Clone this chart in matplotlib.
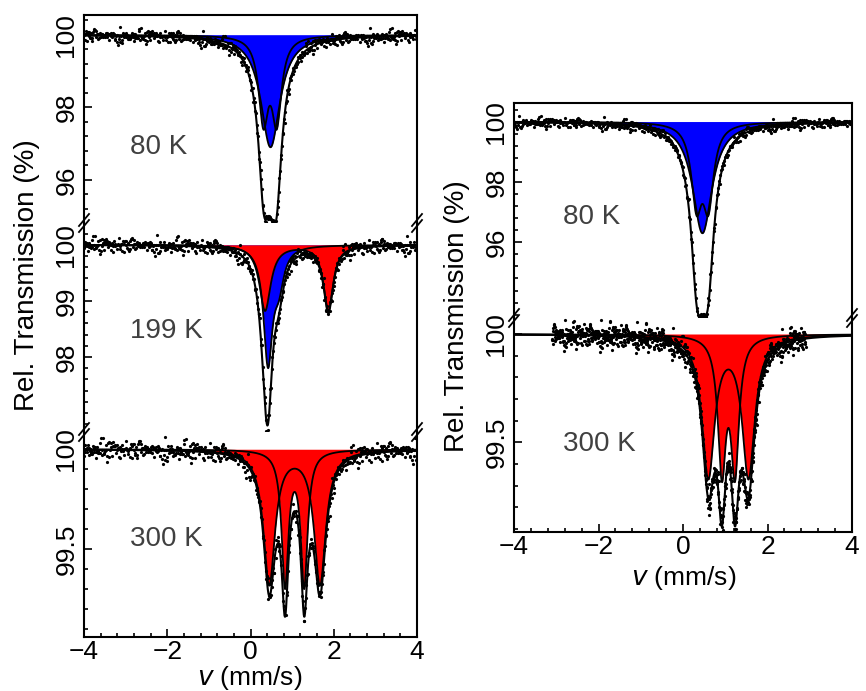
import numpy as np
import matplotlib.pyplot as plt
from matplotlib.lines import Line2D
from matplotlib.ticker import MultipleLocator, FixedLocator, FormatStrFormatter

plt.rcParams['font.family'] = ['Liberation Sans', 'DejaVu Sans']

# sub-spectra: (line position mm/s, half width mm/s, depth %)
l80_blue_doublet = [(0.31, 0.14, 2.25), (0.63, 0.14, 2.25)]
l80_blue_singlet = [(0.48, 0.28, 3.1)]
l199_blue = [(0.42, 0.13, 2.05), (0.68, 0.15, 0.6)]
l199_red = [(0.35, 0.165, 1.17), (1.87, 0.14, 1.17)]
l300_red_outer = [(0.45, 0.17, 0.67), (1.67, 0.17, 0.67)]
l300_red_inner = [(0.83, 0.10, 0.67), (1.29, 0.10, 0.67)]
r80_blue_doublet = [(0.32, 0.15, 2.55), (0.60, 0.15, 2.55)]
r80_blue_singlet = [(0.46, 0.28, 3.7)]
r300_red_outer = [(0.60, 0.18, 0.65), (1.55, 0.18, 0.65)]
r300_red_inner = [(0.92, 0.115, 0.61), (1.23, 0.115, 0.61)]

# y tick values of each panel
l80_ticks = [96, 98, 100]
l199_ticks = [98, 99, 100]
l300_ticks = [99.5, 100]
r80_ticks = [96, 98, 100]
r300_ticks = [99.5, 100]

# scatter of the measured points around the fit, in units of the noise level
noise = [0.3, -1.1, 0.8, -0.2, 1.6, -0.7, 0.1, -1.9, 0.5, 1.2, -0.4, -0.9, 2.1, 0.0, -1.4, 0.7,
         -0.3, 1.0, -2.3, 0.4, 0.9, -0.6, 1.4, -1.2, 0.2, -0.1, 1.8, -0.8, 0.6, -1.6, 0.1, 1.1,
         -0.5, 2.6, -1.0, 0.3, -0.2, 0.8, -1.3, 1.5, -0.4, 0.0, -2.0, 0.9, 0.5, -0.7, 1.3, -1.5,
         0.2, 0.7, -0.9, 1.9, -0.3, -1.1, 0.6, -0.1, 1.0, -1.8, 0.4, 3.0, -0.6, 0.1, -1.2, 0.8,
         -0.4, 1.2, -0.2, -2.7, 0.5, 0.9, -1.0, 0.3, 1.7, -0.5, -0.8, 0.0, 1.1, -1.5, 0.6, -0.3,
         2.2, -0.9, 0.2, -1.3, 0.7, 0.4, -0.6, 1.4, -2.1, 0.1, 0.8, -0.1, -1.7, 1.0, 0.3, -0.4,
         1.6, -1.1, 0.5, -0.2, -3.1, 0.9, 0.2, -0.7, 1.3, -0.5, 0.6, -1.4, 0.0, 2.0, -0.8, 0.4,
         -1.2, 1.5, -0.3, 0.7, -1.9, 0.1, 1.1, -0.6, 2.8, -1.0, 0.3, -0.2, 0.9, -1.6, 0.5, -0.4]

v_fit = np.linspace(-4, 4, 1601)


def absorption(v, comp):
    return sum(d / (1 + ((v - p) / g) ** 2) for p, g, d in comp)


def draw_panel(ax, comps, colors, ylim, yticks, minor, sigma, n_pts, v_data, k):
    total = 100 - sum(absorption(v_fit, c) for c in comps)
    for c, col in zip(comps, colors):
        curve = 100 - absorption(v_fit, c)
        ax.fill_between(v_fit, curve, 100, color=col, lw=0)
        ax.plot(v_fit, curve, color='k', lw=1.3)
    ax.plot(v_fit, total, color='k', lw=1.5)
    vd = np.linspace(v_data[0], v_data[1], n_pts)
    res = np.array([noise[(i * 29 + k) % len(noise)] for i in range(n_pts)])
    yd = 100 - sum(absorption(vd, c) for c in comps) + sigma * res
    ax.plot(vd, yd, 'o', ms=2.3, color='k', mew=0)
    ax.set_xlim(-4, 4)
    ax.set_ylim(*ylim)
    ax.yaxis.set_major_locator(FixedLocator(yticks))
    ax.yaxis.set_major_formatter(FormatStrFormatter('%g'))
    ax.yaxis.set_minor_locator(MultipleLocator(minor))
    ax.xaxis.set_major_locator(MultipleLocator(2))
    ax.xaxis.set_minor_locator(MultipleLocator(0.4))
    ax.tick_params(which='both', direction='in', width=1.2, right=False, top=False,
                   labelsize=19, pad=4)
    ax.tick_params(which='major', length=6)
    ax.tick_params(which='minor', length=3)
    ax.tick_params(axis='x', pad=2)
    ax.tick_params(axis='y', labelrotation=90)
    plt.setp(ax.get_yticklabels(), va='center')
    for s in ax.spines.values():
        s.set_linewidth(1.5)


W, H = 866, 691
fig = plt.figure(figsize=(W / 100, H / 100), dpi=100)


def add_ax(x0, x1, top, bottom):
    return fig.add_axes([x0 / W, 1 - bottom / H, (x1 - x0) / W, (bottom - top) / H])


def brk(x, y):
    for dy in (-3, 3):
        fig.add_artist(Line2D([(x - 5) / W, (x + 5) / W],
                              [1 - (y + dy + 6) / H, 1 - (y + dy - 6) / H],
                              color='k', lw=1.3, transform=fig.transFigure))


# left column
axL1 = add_ax(84, 417, 15, 223)
axL2 = add_ax(84, 417, 223, 432)
axL3 = add_ax(84, 417, 432, 637)
# right column
axR1 = add_ax(514, 852, 103, 318)
axR2 = add_ax(514, 852, 318, 532)

draw_panel(axL1, [l80_blue_doublet, l80_blue_singlet], ['#0000FF', '#0000FF'],
           (94.81, 100.55), l80_ticks, 0.4, 0.08, 512, (-4, 4), 0)
draw_panel(axL2, [l199_blue, l199_red], ['#0000FF', '#FF0000'],
           (96.66, 100.39), l199_ticks, 0.2, 0.06, 512, (-4, 4), 11)
draw_panel(axL3, [l300_red_outer, l300_red_inner], ['#FF0000', '#FF0000'],
           (99.06, 100.087), l300_ticks, 0.1, 0.022, 512, (-4, 4), 47)
draw_panel(axR1, [r80_blue_doublet, r80_blue_singlet], ['#0000FF', '#0000FF'],
           (93.49, 100.62), r80_ticks, 0.4, 0.075, 512, (-4, 4), 83)
draw_panel(axR2, [r300_red_outer, r300_red_inner], ['#FF0000', '#FF0000'],
           (99.085, 100.075), r300_ticks, 0.1, 0.024, 900, (-3.1, 2.9), 5)

# temperature labels
for x0, yy, lab in [(130, 147, '80 K'), (130, 331, '199 K'), (130, 539, '300 K'),
                    (563, 217, '80 K'), (563, 444, '300 K')]:
    fig.text(x0 / W, 1 - yy / H, lab, fontsize=20, color='#404040', va='center')

for top_ax, bot_ax in [(axL1, axL2), (axL2, axL3), (axR1, axR2)]:
    top_ax.spines['bottom'].set_visible(False)
    top_ax.tick_params(axis='x', which='both', bottom=False, labelbottom=False)
    bot_ax.spines['top'].set_visible(False)

for x, y in [(84, 223), (417, 223), (84, 432), (417, 432), (514, 318), (852, 318)]:
    brk(x, y)

fig.text(27 / W, 1 - 275 / H, 'Rel. Transmission (%)', rotation=90, fontsize=20,
         ha='center', va='center')
fig.text(457 / W, 1 - 316 / H, 'Rel. Transmission (%)', rotation=90, fontsize=20,
         ha='center', va='center')
fig.text(250 / W, 1 - 678 / H, r'$\it{v}$ (mm/s)', fontsize=19, ha='center', va='center')
fig.text(684 / W, 1 - 578 / H, r'$\it{v}$ (mm/s)', fontsize=19, ha='center', va='center')

fig.savefig('out.png', dpi=100)
